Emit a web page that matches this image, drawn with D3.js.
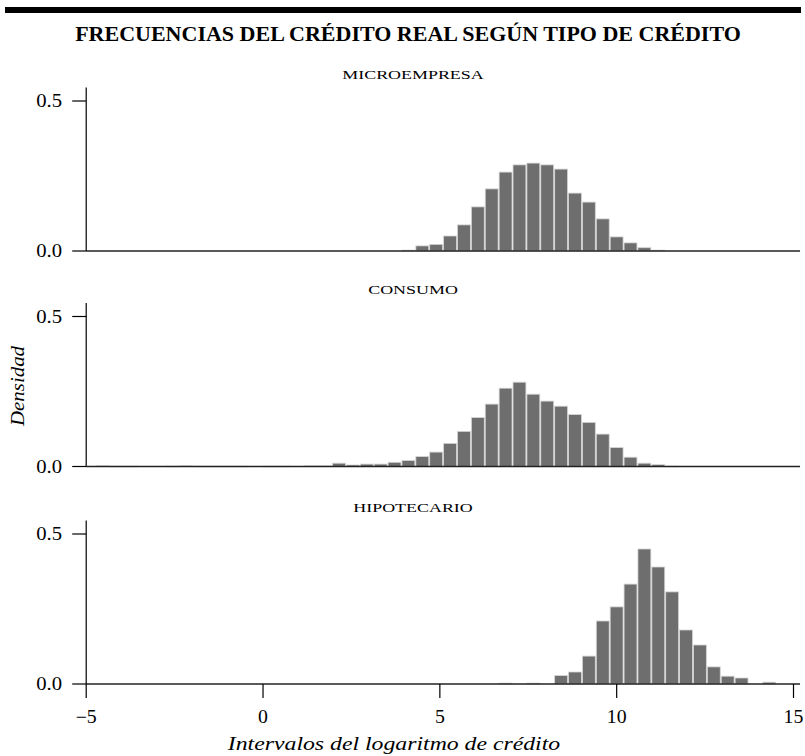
<!DOCTYPE html>
<html><head><meta charset="utf-8">
<script src="https://cdn.jsdelivr.net/npm/d3@7"></script>
<style>body{margin:0;background:#fff}svg{display:block}</style>
</head><body>
<svg id="c" width="805" height="756"></svg>
<script>
// ---- data ----
const title = "FRECUENCIAS DEL CRÉDITO REAL SEGÚN TIPO DE CRÉDITO";
const panelNames = ["MICROEMPRESA", "CONSUMO", "HIPOTECARIO"];
const xTicks = [-5, 0, 5, 10, 15];
const yTicks = [0, 0.5];
const xTitle = "Intervalos del logaritmo de crédito";
const yTitle = "Densidad";
const binStart = -4.72;   // left edge of first bin (log credit)
const binWidth = 0.3925;  // width of each bin
// densities per bin (50 bins)
const microempresa = [0,0,0,0,0,0,0,0,0,0, 0,0,0,0,0,0,0,0,0,0,
  0,0,0.003,0.017,0.022,0.050,0.087,0.147,0.207,0.263,
  0.287,0.293,0.287,0.273,0.193,0.163,0.107,0.047,0.027,0.011,
  0.003,0,0,0,0,0,0,0,0,0];
const consumo = [0.002,0.001,0.001,0,0,0.001,0.002,0.001,0.001,0.001,
  0.001,0,0.001,0.001,0,0.002,0.002,0.011,0.005,0.008,
  0.008,0.014,0.020,0.033,0.048,0.077,0.117,0.163,0.208,0.261,
  0.281,0.241,0.218,0.201,0.173,0.147,0.108,0.063,0.031,0.011,
  0.006,0.001,0,0,0,0,0,0,0,0];
const hipotecario = [0,0,0,0,0,0,0,0,0,0, 0,0,0,0,0,0,0,0,0,0,
  0,0,0,0,0,0,0,0,0,0.003,
  0,0.003,0,0.028,0.040,0.093,0.210,0.257,0.333,0.450,
  0.390,0.307,0.180,0.130,0.057,0.026,0.020,0,0.006,0];
const series = [microempresa, consumo, hipotecario];

// ---- layout ----
const svg = d3.select("#c");
const serif = "'Liberation Serif', 'Times New Roman', serif";
const x = d3.scaleLinear().domain([-5, 15]).range([86.2, 793.5]);
const bases = [251, 466.5, 684];
const plotRight = 800;

// text with horizontally widened glyphs (the original face is a wide schoolbook serif)
function wideText(parent, px, py, str, size, f, anchor, extra) {
  const t = parent.append("text")
    .attr("transform", `translate(${px},${py}) scale(${f},1)`)
    .attr("text-anchor", anchor).attr("font-family", serif).attr("font-size", size).text(str);
  if (extra) extra(t);
  return t;
}

svg.append("rect").attr("x", 5).attr("y", 7).attr("width", 796).attr("height", 6).attr("fill", "#000");
svg.append("text").attr("x", 408).attr("y", 41).attr("text-anchor", "middle")
  .attr("font-family", serif).attr("font-weight", "bold").attr("font-size", 22)
  .text(title);

panelNames.forEach((name, p) => {
  const base = bases[p];
  const y = d3.scaleLinear().domain([0, 0.5]).range([base, base - 150]);
  const g = svg.append("g");
  wideText(g, 413, y(0.545) - 9, name, 13, 1.38, "middle");
  const bins = series[p].map((d, i) => ({x0: binStart + i * binWidth, x1: binStart + (i + 1) * binWidth, v: d}))
    .filter(b => b.v > 0);
  g.selectAll("rect.bar").data(bins).enter().append("rect").attr("class", "bar")
    .attr("x", b => x(b.x0) + 0.5).attr("width", b => x(b.x1) - x(b.x0) - 1)
    .attr("y", b => y(b.v)).attr("height", b => Math.max(0.6, y(0) - y(b.v)))
    .attr("fill", "#6e6e6e").attr("stroke", "#d4d4d4").attr("stroke-width", 0.8);
  // baseline
  g.append("line").attr("x1", x(-5)).attr("x2", plotRight).attr("y1", base).attr("y2", base)
    .attr("stroke", "#222").attr("stroke-width", 1.5);
  // y axis
  g.append("line").attr("x1", x(-5)).attr("x2", x(-5)).attr("y1", y(0)).attr("y2", y(0.545))
    .attr("stroke", "#000").attr("stroke-width", 1.2);
  yTicks.forEach(t => {
    g.append("line").attr("x1", x(-5) - 14).attr("x2", x(-5)).attr("y1", y(t)).attr("y2", y(t))
      .attr("stroke", "#000").attr("stroke-width", 1.2);
    wideText(g, 62, y(t) + 6, d3.format(".1f")(t), 18, 1.15, "end");
  });
  if (p === 2) {
    xTicks.forEach(t => {
      g.append("line").attr("x1", x(t)).attr("x2", x(t)).attr("y1", base).attr("y2", base + 14)
        .attr("stroke", "#000").attr("stroke-width", 1.2);
      wideText(g, x(t), base + 39, t < 0 ? "\u2212" + Math.abs(t) : String(t), 18, 1.1, "middle");
    });
  }
});

wideText(svg, 394, 750, xTitle, 19, 1.25, "middle", t => t.attr("font-style", "italic"));
svg.append("text").attr("transform", "translate(24,386) rotate(-90) scale(1.1,1)").attr("text-anchor", "middle")
  .attr("font-family", serif).attr("font-style", "italic").attr("font-size", 19).text(yTitle);
</script>
</body></html>
